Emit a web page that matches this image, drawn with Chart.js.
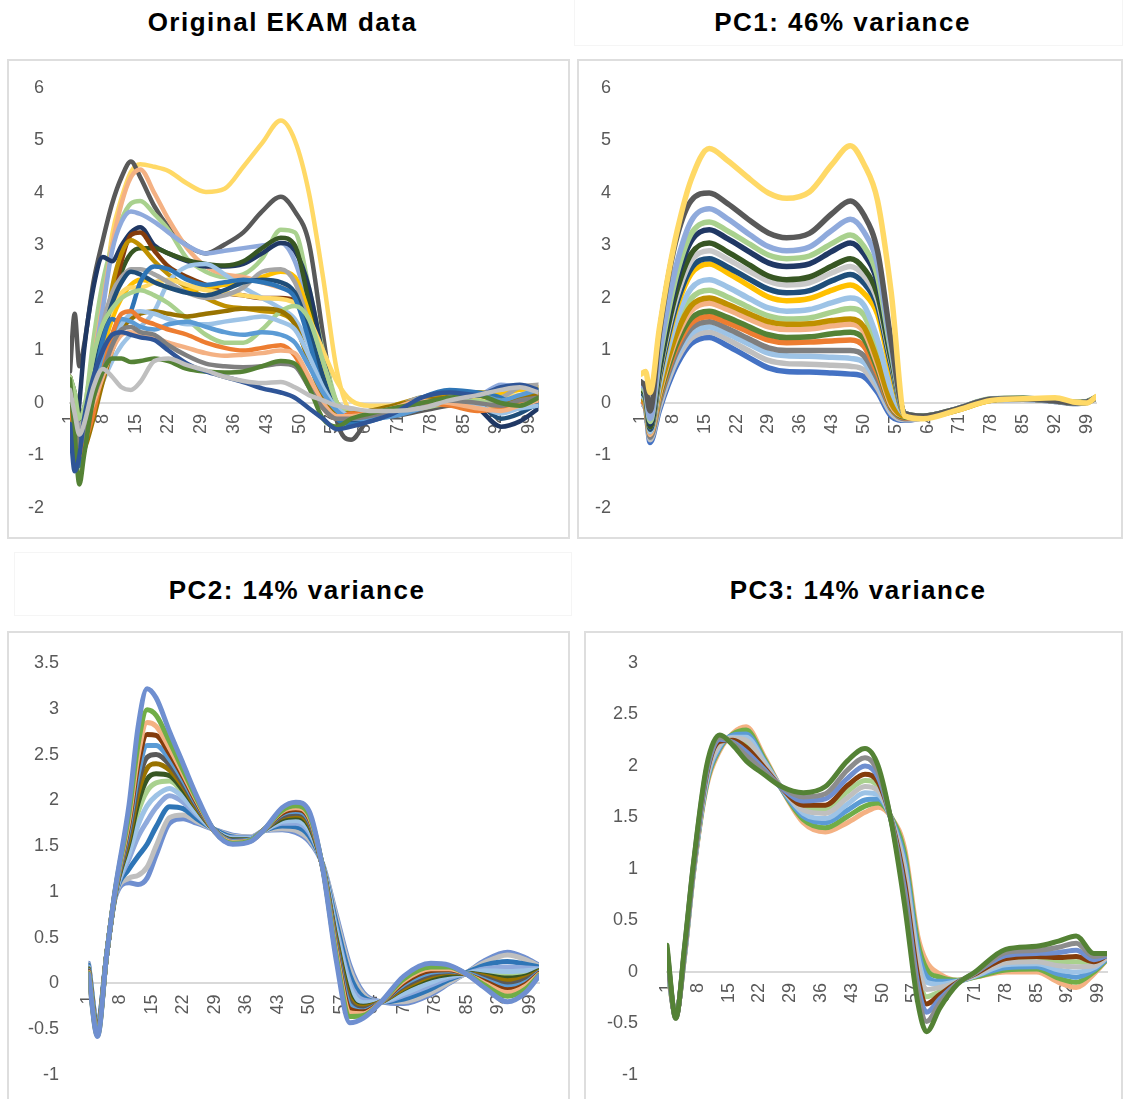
<!DOCTYPE html>
<html>
<head>
<meta charset="utf-8">
<script src="https://cdn.jsdelivr.net/npm/chart.js@4.4.1/dist/chart.umd.min.js"></script>
<style>
  html, body { margin: 0; padding: 0; background: #fff; }
  body { width: 1124px; height: 1099px; position: relative; overflow: hidden; font-family: "Liberation Sans", Arial, sans-serif; }
  .title { position: absolute; font-weight: bold; font-size: 26px; letter-spacing: 1.5px; line-height: 30px; text-align: center; color: #000; white-space: nowrap; }
  .frame { position: absolute; box-sizing: border-box; border: 2px solid #dedede; }
  .faint { position: absolute; box-sizing: border-box; border: 1px solid #f5f5f5; }
  canvas { position: absolute; }
</style>
</head>
<body>
<div class="faint" style="left:574px; top:-1px; width:549px; height:47px;"></div>
<div class="faint" style="left:14px; top:552px; width:558px; height:64px;"></div>

<div class="title" style="left:0px; top:7px; width:565px;">Original EKAM data</div>
<div class="title" style="left:570px; top:7px; width:545px;">PC1: 46% variance</div>
<div class="title" style="left:14px; top:575px; width:566px;">PC2: 14% variance</div>
<div class="title" style="left:600px; top:575px; width:516px;">PC3: 14% variance</div>

<div class="frame" style="left:7px; top:59px; width:563px; height:480px;"></div>
<div class="frame" style="left:577px; top:59px; width:546px; height:480px;"></div>
<div class="frame" style="left:7px; top:631px; width:563px; height:480px;"></div>
<div class="frame" style="left:584px; top:631px; width:539px; height:480px;"></div>

<canvas id="ekam" width="562" height="478" style="left:8px; top:60px;"></canvas>
<canvas id="pc1" width="545" height="478" style="left:578px; top:60px;"></canvas>
<canvas id="pc2" width="562" height="467" style="left:8px; top:632px;"></canvas>
<canvas id="pc3" width="538" height="467" style="left:585px; top:632px;"></canvas>

<script>
// Category labels shown on every horizontal axis (% of the gait cycle)
const X_TICKS = [1, 8, 15, 22, 29, 36, 43, 50, 57, 64, 71, 78, 85, 92, 99];

// Value ticks of each panel
const Y_TICKS_EKAM = [-2, -1, 0, 1, 2, 3, 4, 5, 6];
const Y_TICKS_PC1 = [-2, -1, 0, 1, 2, 3, 4, 5, 6];
const Y_TICKS_PC2 = [-1, -0.5, 0, 0.5, 1, 1.5, 2, 2.5, 3, 3.5];
const Y_TICKS_PC3 = [-1, -0.5, 0, 0.5, 1, 1.5, 2, 2.5, 3];

// Sample positions along the cycle for each panel's curves
const EKAM_X = [1,2,3,4,6,8,10,12,14,16,19,22,26,30,34,38,42,46,49,52,55,58,61,65,70,76,82,88,93,97,101];
const PC1_X  = [1,2,3,5,7,9,12,16,20,25,29,33,38,43,47,50,53,56,59,63,70,78,85,92,96,99,101];
const PC2_X  = [1,3,5,7,10,12,14,16,19,22,25,29,33,37,40,44,47,50,53,56,59,62,66,71,77,81,85,89,94,98,101];
const PC3_X  = [1,3,5,7,10,13,16,19,23,27,32,37,42,46,49,52,55,58,60,63,67,71,78,85,90,94,98,101];

// Original EKAM curves (one list per subject)
const EKAM_Y = [
  [.25,-.2,-.6,-.4,.3,.65,.5,.3,.25,.4,.8,.85,.72,.62,.5,.42,.38,.4,.3,.15,.05,-.05,-.1,-.15,-.15,-.1,.05,.15,.25,.3,.2],
  [-.4,-1.3,-1.0,-.3,.5,1.0,1.3,1.35,1.3,1.25,1.2,1.0,.75,.6,.5,.4,.28,.2,.1,-.1,-.3,-.5,-.45,-.35,-.2,.1,.2,.15,.3,.35,.25],
  [.45,-.6,-1.55,-1.0,.1,.6,.85,.85,.78,.8,.85,.8,.65,.6,.58,.6,.7,.8,.75,.3,-.3,-.45,-.3,-.2,-.1,0,.1,.15,0,-.05,.1],
  [.3,-.4,-.8,-.6,.1,.6,1.1,1.4,1.45,1.35,1.3,1.1,.9,.75,.7,.68,.7,.75,.7,.3,-.1,-.3,-.3,-.25,-.15,0,.05,0,-.05,.05,.1],
  [.3,-.3,-.6,-.5,0,.5,1.0,1.3,1.35,1.3,1.25,1.15,1.05,.95,.9,.92,.95,1.0,.95,.5,0,-.25,-.25,-.2,-.1,.05,0,-.1,-.15,-.05,.05],
  [0,-.6,-1.0,-.8,-.2,.6,1.3,1.7,1.75,1.6,1.5,1.4,1.3,1.15,1.05,1.0,1.05,1.1,.9,.4,-.1,-.3,-.2,-.2,-.1,0,-.05,-.15,-.1,0,.05],
  [.2,-.4,-.8,-.6,.2,.8,1.3,1.6,1.55,1.45,1.4,1.5,1.55,1.45,1.35,1.3,1.35,1.3,1.15,.7,.2,-.15,-.3,-.3,-.25,-.1,.1,.15,.05,.15,.25],
  [.1,-.5,-.9,-.7,0,.6,1.1,1.5,1.7,1.75,1.7,1.6,1.5,1.5,1.55,1.6,1.65,1.55,1.4,.9,.3,-.1,-.25,-.3,-.2,-.05,.05,-.05,-.2,-.1,-.05],
  [0,-.6,-1.0,-.9,-.3,.4,1.0,1.4,1.6,1.7,1.75,1.7,1.65,1.7,1.75,1.8,1.8,1.75,1.5,.8,.1,-.2,-.2,-.15,-.05,.05,.1,.15,.05,.1,.2],
  [.5,.2,-.3,-.1,.9,1.5,1.8,2.0,2.1,2.15,2.05,1.9,1.6,1.3,1.15,1.15,1.4,1.75,1.85,1.6,.8,0,-.2,-.2,-.15,-.1,0,.05,-.1,-.05,.1],
  [-.2,-1.0,-1.2,-.8,.3,1.2,1.6,1.5,1.75,2.3,2.6,2.55,2.35,2.25,2.3,2.35,2.3,2.2,2.0,1.2,.2,-.3,-.4,-.35,-.2,.1,.25,.2,.1,-.1,-.05],
  [.4,-.3,-.7,-.4,.5,1.3,1.9,2.3,2.5,2.45,2.3,2.2,2.1,2.05,2.15,2.3,2.35,2.3,2.1,1.4,.5,-.2,-.35,-.3,-.2,-.05,.1,0,-.3,-.2,0],
  [.3,0,-.5,-.3,.6,1.5,2.1,2.4,2.55,2.55,2.45,2.3,2.1,2.0,2.05,2.2,2.5,2.55,2.3,1.5,.5,-.1,-.2,-.15,-.1,.1,.05,0,.1,.3,.35],
  [.3,-.2,-.6,-.4,.5,1.3,1.8,2.1,2.2,2.2,2.3,2.35,2.25,2.15,2.1,2.05,2.0,1.98,1.9,1.6,1.0,.4,.05,-.05,-.05,0,0,.05,.1,.15,.2],
  [.1,-.4,-.7,-.6,.2,1.0,1.6,2.0,2.25,2.35,2.3,2.2,2.15,2.2,2.25,2.3,2.4,2.5,2.4,1.7,.7,0,-.2,-.2,-.1,0,.05,.1,.2,.25,.3],
  [.2,-.6,-.9,-.7,-.1,.4,.8,1.1,1.3,1.45,1.75,2.3,2.6,2.65,2.45,2.2,2.0,1.8,1.6,1.1,.4,0,-.15,-.2,-.1,.05,0,.1,.2,.1,0],
  [.2,-.5,-.9,-.8,0,1.0,2.2,2.85,3.1,3.0,2.7,2.45,2.2,2.0,1.85,1.8,1.75,1.7,1.5,.8,.1,-.15,-.2,-.15,-.05,.1,.15,.2,.15,.05,.1],
  [.5,-.2,-.8,-.6,.2,.9,1.8,2.7,3.2,3.25,2.9,2.6,2.4,2.25,2.1,2.05,2.0,2.0,1.95,1.3,.3,-.15,-.2,-.2,-.1,.1,.15,.1,.05,.1,.15],
  [.5,.2,-.3,-.1,.6,1.2,1.9,2.5,2.85,2.95,2.95,2.85,2.72,2.65,2.62,2.7,2.95,3.15,3.0,1.9,.4,-.3,-.3,-.25,-.1,.05,.1,.2,.15,.1,.15],
  [.3,-.9,0,1.0,2.2,2.78,2.7,3.0,3.25,3.35,3.0,2.85,2.7,2.6,2.6,2.65,2.85,3.05,2.9,2.2,.9,-.1,-.35,-.3,-.2,0,.05,-.1,-.45,-.35,-.1],
  [0,-.5,-.8,-.6,.7,1.8,2.9,3.45,3.65,3.6,3.45,3.25,3.0,2.85,2.9,2.95,3.0,3.05,2.7,1.8,.6,-.2,-.35,-.3,-.15,.05,.2,.15,.35,.3,.2],
  [.2,-.4,-.7,-.5,.8,1.9,3.0,3.8,4.3,4.45,4.0,3.5,2.95,2.6,2.45,2.4,2.3,2.2,2.1,1.3,.3,-.2,-.3,-.25,-.1,0,.05,-.05,-.1,.05,.1],
  [.3,0,-.4,-.2,1.2,2.3,3.0,3.5,3.8,3.85,3.6,3.3,2.75,2.5,2.4,2.45,2.75,3.3,3.25,2.2,1.0,0,-.2,-.15,-.1,.1,.1,.05,0,.05,.1],
  [.6,1.7,.7,1.1,2.3,3.1,3.8,4.3,4.6,4.3,3.75,3.35,3.0,2.85,3.02,3.25,3.65,3.93,3.65,3.05,1.3,-.35,-.7,-.3,-.25,-.15,-.05,0,.05,.1,.05],
  [.1,-.3,-.6,-.5,.6,1.8,3.2,3.9,4.4,4.55,4.5,4.42,4.18,4.02,4.08,4.5,4.95,5.38,5.0,4.0,2.4,.6,-.15,-.2,-.1,0,.05,.1,.15,.25,.22]
];
const EKAM_COLORS = ['#BFBFBF','#2F5597','#548235','#7F7F7F','#F4B183','#ED7D31','#5B9BD5','#9DC3E6','#997300','#A9D18E',
  '#2E75B6','#1F4E79','#A5A5A5','#FFD966','#FFC000','#9DC3E6','#BF9000','#843C0C','#375623','#203864',
  '#8FAADC','#F4B183','#A9D18E','#595959','#FFD966'];

// Curves reconstructed from the first component
const PC1_Y = [
  [.55,.6,.2,1.4,2.45,3.3,4.25,4.85,4.62,4.26,4.0,3.9,4.02,4.55,4.9,4.55,3.85,2.1,-.25,-.3,-.15,.05,.08,.1,.02,0,.12],
  [.4,.3,-.15,1.3,2.4,3.2,3.85,4.0,3.8,3.47,3.24,3.15,3.23,3.61,3.85,3.58,2.89,1.16,-.2,-.25,-.12,.07,.08,.04,0,.02,.1],
  [.35,.25,-.3,.9,1.9,2.7,3.46,3.7,3.51,3.2,2.98,2.9,2.97,3.29,3.5,3.26,2.63,1.05,-.2,-.26,-.12,.07,.08,.04,0,.02,.1],
  [.3,.2,-.35,.79,1.74,2.5,3.22,3.45,3.28,3.02,2.82,2.75,2.8,3.04,3.2,2.98,2.4,.96,-.2,-.25,-.12,.07,.08,.04,0,.02,.1],
  [.3,.2,-.4,.71,1.64,2.38,3.08,3.3,3.13,2.87,2.67,2.6,2.65,2.89,3.05,2.84,2.29,.92,-.2,-.25,-.13,.06,.08,.04,0,.02,.1],
  [.25,.15,-.45,.6,1.48,2.18,2.84,3.05,2.88,2.62,2.42,2.35,2.4,2.61,2.75,2.56,2.06,.83,-.2,-.26,-.14,.07,.09,.05,.01,.02,.11],
  [.25,.15,-.45,.56,1.39,2.06,2.7,2.9,2.74,2.5,2.32,2.25,2.29,2.48,2.6,2.42,1.95,.78,-.21,-.25,-.13,.07,.08,.04,0,.02,.1],
  [.2,.1,-.5,.48,1.29,1.94,2.56,2.75,2.59,2.35,2.17,2.1,2.14,2.33,2.45,2.28,1.84,.7,-.21,-.26,-.14,.06,.08,.04,0,.02,.1],
  [.2,.1,-.5,.45,1.23,1.86,2.46,2.65,2.48,2.22,2.02,1.95,1.99,2.15,2.25,2.09,1.69,.6,-.22,-.28,-.15,.05,.08,.06,.01,.02,.1],
  [.15,.05,-.55,.32,1.05,1.63,2.18,2.35,2.21,1.98,1.81,1.75,1.78,1.91,2.0,1.86,1.2,.25,-.22,-.26,-.13,.07,.08,.04,0,.02,.1],
  [.1,0,-.55,.22,.85,1.36,1.85,2.0,1.88,1.69,1.55,1.5,1.51,1.57,1.6,1.45,.8,0,-.25,-.26,-.13,.07,.08,.04,0,.02,.1],
  [.1,0,-.6,.15,.78,1.28,1.75,1.9,1.78,1.59,1.45,1.4,1.41,1.47,1.5,1.36,.72,-.05,-.25,-.26,-.13,.07,.08,.04,0,.02,.1],
  [.1,0,-.6,.11,.69,1.16,1.61,1.75,1.63,1.44,1.3,1.25,1.26,1.32,1.35,1.22,.64,-.08,-.27,-.26,-.14,.06,.08,.04,0,.02,.1],
  [.05,-.05,-.6,.08,.64,1.09,1.52,1.65,1.53,1.34,1.2,1.15,1.16,1.18,1.2,1.08,.56,-.1,-.28,-.27,-.14,.06,.08,.04,0,.02,.1],
  [.05,-.05,-.65,.01,.56,1.0,1.42,1.55,1.42,1.21,1.05,1.0,1.0,1.0,1.0,.9,.45,-.12,-.3,-.27,-.14,.06,.08,.04,0,.02,.1],
  [.05,-.05,-.65,-.02,.51,.93,1.32,1.45,1.32,1.11,.95,.9,.89,.87,.85,.77,.37,-.15,-.3,-.27,-.14,.06,.07,.04,0,.02,.1],
  [0,-.1,-.7,-.09,.43,.84,1.23,1.35,1.21,.98,.81,.75,.74,.72,.7,.63,.28,-.2,-.32,-.28,-.15,.05,.07,.03,-.01,.01,.09],
  [0,-.1,-.75,-.15,.35,.75,1.13,1.25,1.09,.85,.67,.6,.59,.57,.55,.5,.2,-.25,-.33,-.28,-.15,.05,.07,.03,-.01,.01,.09],
  [.15,.05,-.55,.26,.94,1.48,1.99,2.15,2.02,1.81,1.66,1.6,1.62,1.73,1.8,1.67,1.0,.15,-.23,-.25,-.12,.08,.09,.04,.01,.03,.11]
];
const PC1_COLORS = ['#FFD966','#595959','#8FAADC','#A9D18E','#203864','#375623','#C9C9C9','#1F4E79','#FFC000','#9DC3E6',
  '#BF9000','#F4B183','#548235','#ED7D31','#7F7F7F','#9DC3E6','#BFBFBF','#4472C4','#A9D18E'];

// Curves reconstructed from the second component
const PC2_Y = [
  [.1,-.58,.3,1.05,1.95,2.8,3.22,3.12,2.75,2.4,2.05,1.66,1.52,1.55,1.68,1.92,1.98,1.88,1.25,.25,-.43,-.38,-.2,.08,.22,.2,.1,-.05,-.2,-.1,.08],
  [.11,-.57,.3,1.04,1.86,2.61,2.99,2.93,2.64,2.33,2.02,1.66,1.53,1.56,1.68,1.89,1.94,1.84,1.26,.3,-.36,-.35,-.2,.05,.18,.18,.1,-.02,-.14,-.06,.09],
  [.12,-.56,.3,1.03,1.8,2.49,2.85,2.81,2.57,2.29,2.0,1.66,1.54,1.56,1.68,1.88,1.92,1.82,1.26,.34,-.32,-.33,-.2,.03,.16,.16,.1,0,-.1,-.03,.1],
  [.13,-.55,.3,1.03,1.75,2.39,2.72,2.71,2.51,2.26,1.98,1.66,1.54,1.56,1.68,1.86,1.9,1.8,1.26,.37,-.28,-.31,-.2,.01,.14,.15,.1,.02,-.07,-.01,.11],
  [.14,-.54,.3,1.02,1.7,2.28,2.6,2.6,2.45,2.22,1.96,1.67,1.55,1.57,1.68,1.85,1.88,1.78,1.27,.4,-.24,-.3,-.2,-.01,.12,.14,.11,.04,-.04,.01,.12],
  [.14,-.53,.3,1.01,1.64,2.18,2.47,2.5,2.39,2.18,1.94,1.67,1.56,1.57,1.68,1.83,1.86,1.76,1.27,.43,-.2,-.28,-.2,-.03,.1,.13,.11,.06,-.01,.04,.12],
  [.15,-.53,.3,1.01,1.59,2.08,2.35,2.4,2.33,2.15,1.92,1.67,1.56,1.57,1.68,1.82,1.84,1.74,1.27,.46,-.17,-.26,-.2,-.05,.08,.12,.11,.08,.03,.06,.13],
  [.16,-.52,.3,1.0,1.54,1.97,2.23,2.29,2.27,2.11,1.91,1.67,1.57,1.57,1.68,1.8,1.82,1.72,1.27,.49,-.13,-.25,-.2,-.06,.06,.1,.11,.09,.06,.08,.14],
  [.17,-.5,.3,.99,1.42,1.73,1.94,2.05,2.13,2.03,1.86,1.67,1.58,1.58,1.67,1.77,1.78,1.68,1.28,.56,-.04,-.21,-.2,-.11,.01,.08,.11,.14,.13,.14,.15],
  [.18,-.49,.3,.98,1.36,1.6,1.77,1.92,2.05,1.98,1.84,1.67,1.59,1.59,1.67,1.75,1.75,1.65,1.29,.6,.01,-.18,-.2,-.13,-.02,.06,.11,.16,.18,.17,.16],
  [.2,-.47,.3,.97,1.25,1.39,1.52,1.71,1.93,1.91,1.8,1.68,1.6,1.59,1.67,1.72,1.71,1.61,1.29,.66,.09,-.15,-.2,-.17,-.06,.04,.12,.2,.24,.21,.18],
  [.21,-.46,.3,.96,1.15,1.18,1.27,1.5,1.81,1.84,1.77,1.68,1.61,1.6,1.67,1.69,1.67,1.57,1.3,.72,.16,-.12,-.2,-.2,-.1,.01,.12,.23,.31,.26,.19],
  [.22,-.45,.3,.95,1.1,1.08,1.15,1.4,1.75,1.8,1.75,1.68,1.62,1.6,1.67,1.68,1.65,1.55,1.3,.75,.2,-.1,-.2,-.22,-.12,0,.12,.25,.34,.28,.2],
  [.16,-.51,.3,1.0,1.49,1.87,2.1,2.19,2.21,2.08,1.89,1.67,1.57,1.58,1.67,1.79,1.8,1.7,1.28,.52,-.09,-.23,-.2,-.08,.04,.09,.11,.11,.09,.11,.14]
];
const PC2_COLORS = ['#6F8FD0','#70AD47','#F4B183','#843C0C','#5B9BD5','#595959','#997300','#375623','#9DC3E6','#8FAADC',
  '#2E75B6','#BFBFBF','#6F8FD0','#A9D18E'];

// Curves reconstructed from the third component
const PC3_Y = [
  [.26,-.45,.25,1.05,2.0,2.3,2.2,2.05,1.92,1.8,1.74,1.8,2.05,2.17,2.0,1.45,.65,-.3,-.58,-.35,-.12,0,.22,.25,.3,.35,.18,.18],
  [.23,-.45,.24,1.04,1.97,2.28,2.22,2.1,1.95,1.8,1.7,1.73,1.96,2.08,1.94,1.46,.73,-.2,-.48,-.3,-.11,-.01,.19,.21,.24,.28,.15,.17],
  [.2,-.44,.22,1.02,1.94,2.26,2.23,2.14,1.97,1.79,1.66,1.68,1.88,2.0,1.89,1.46,.8,-.12,-.39,-.26,-.11,-.01,.16,.18,.19,.21,.12,.16],
  [.18,-.44,.21,1.01,1.92,2.24,2.25,2.18,1.99,1.79,1.62,1.62,1.81,1.92,1.84,1.47,.87,-.04,-.31,-.22,-.1,-.02,.13,.15,.14,.15,.1,.16],
  [.13,-.43,.19,.99,1.88,2.21,2.27,2.25,2.03,1.79,1.57,1.54,1.69,1.8,1.76,1.48,.98,.09,-.17,-.15,-.1,-.03,.09,.1,.06,.05,.06,.14],
  [.11,-.43,.18,.98,1.86,2.2,2.28,2.28,2.05,1.79,1.54,1.49,1.63,1.74,1.72,1.48,1.03,.15,-.1,-.12,-.09,-.04,.07,.08,.02,0,.04,.14],
  [.09,-.42,.17,.97,1.84,2.18,2.3,2.31,2.06,1.78,1.51,1.45,1.57,1.67,1.68,1.49,1.09,.22,-.04,-.09,-.09,-.04,.04,.05,-.02,-.05,.02,.13],
  [.07,-.42,.16,.96,1.82,2.17,2.31,2.35,2.08,1.78,1.48,1.4,1.51,1.61,1.64,1.5,1.15,.29,.03,-.05,-.08,-.05,.02,.03,-.06,-.1,0,.12],
  [.05,-.42,.15,.95,1.8,2.15,2.32,2.38,2.1,1.78,1.45,1.36,1.45,1.55,1.6,1.5,1.2,.35,.1,-.02,-.08,-.05,0,0,-.1,-.15,-.02,.12],
  [.15,-.43,.2,1.0,1.9,2.22,2.26,2.21,2.01,1.79,1.6,1.58,1.75,1.86,1.8,1.47,.92,.03,-.24,-.19,-.1,-.02,.11,.12,.1,.1,.08,.15]
];
const PC3_COLORS = ['#548235','#8C8C8C','#6F8FD0','#843C0C','#BFBFBF','#9DC3E6','#5B9BD5','#70AD47','#F4B183','#A9D18E'];

const TICK_FONT = { family: '"Liberation Sans", Arial, sans-serif', size: 18 };
const TICK_COLOR = '#595959';
const CLEAR = 'rgba(0,0,0,0)';

function drawPanel(canvasId, xs, ys, colors, yMin, yMax, yTicks, box, lineWidth) {
  const datasets = ys.map((vals, i) => ({
    data: vals.map((v, j) => ({ x: xs[j], y: v })),
    borderColor: colors[i],
    borderWidth: lineWidth,
    pointRadius: 0,
    pointHoverRadius: 0,
    fill: false,
    cubicInterpolationMode: 'monotone',
    borderJoinStyle: 'round',
    borderCapStyle: 'round'
  }));
  return new Chart(document.getElementById(canvasId), {
    type: 'line',
    data: { datasets },
    options: {
      responsive: false,
      animation: false,
      events: [],
      layout: { padding: { left: 0, right: box.right, top: box.top, bottom: box.bottom } },
      plugins: { legend: { display: false }, tooltip: { enabled: false } },
      scales: {
        x: {
          type: 'linear', min: 1, max: 101,
          position: { y: 0 },
          afterBuildTicks: s => { s.ticks = X_TICKS.map(v => ({ value: v })); },
          // invisible tick marks only set the gap between the zero line and the labels
          grid: { display: true, color: CLEAR, drawTicks: true, tickLength: 11 },
          border: { display: true, color: '#d9d9d9', width: 2 },
          ticks: { autoSkip: false, minRotation: 90, maxRotation: 90, padding: 0,
                   color: TICK_COLOR, font: TICK_FONT, callback: v => String(v) }
        },
        y: {
          min: yMin, max: yMax,
          afterBuildTicks: s => { s.ticks = yTicks.map(v => ({ value: v })); },
          afterFit: s => { s.width = box.axisWidth; },
          grid: { display: true, color: CLEAR, drawTicks: true, tickLength: box.labelGap },
          border: { display: false },
          ticks: { padding: 0, color: TICK_COLOR, font: TICK_FONT, callback: v => String(v) }
        }
      }
    }
  });
}

drawPanel('ekam', EKAM_X, EKAM_Y, EKAM_COLORS, -2, 6, Y_TICKS_EKAM,
  { right: 31.5, top: 28, bottom: 30, axisWidth: 62, labelGap: 26 }, 4.5);
drawPanel('pc1', PC1_X, PC1_Y, PC1_COLORS, -2, 6, Y_TICKS_PC1,
  { right: 27, top: 28, bottom: 30, axisWidth: 63, labelGap: 30 }, 5.5);
drawPanel('pc2', PC2_X, PC2_Y, PC2_COLORS, -1, 3.5, Y_TICKS_PC2,
  { right: 31, top: 31, bottom: 24, axisWidth: 80.5, labelGap: 29.5 }, 5);
drawPanel('pc3', PC3_X, PC3_Y, PC3_COLORS, -1, 3, Y_TICKS_PC3,
  { right: 16, top: 31, bottom: 24, axisWidth: 82, labelGap: 29 }, 5);
</script>
</body>
</html>
